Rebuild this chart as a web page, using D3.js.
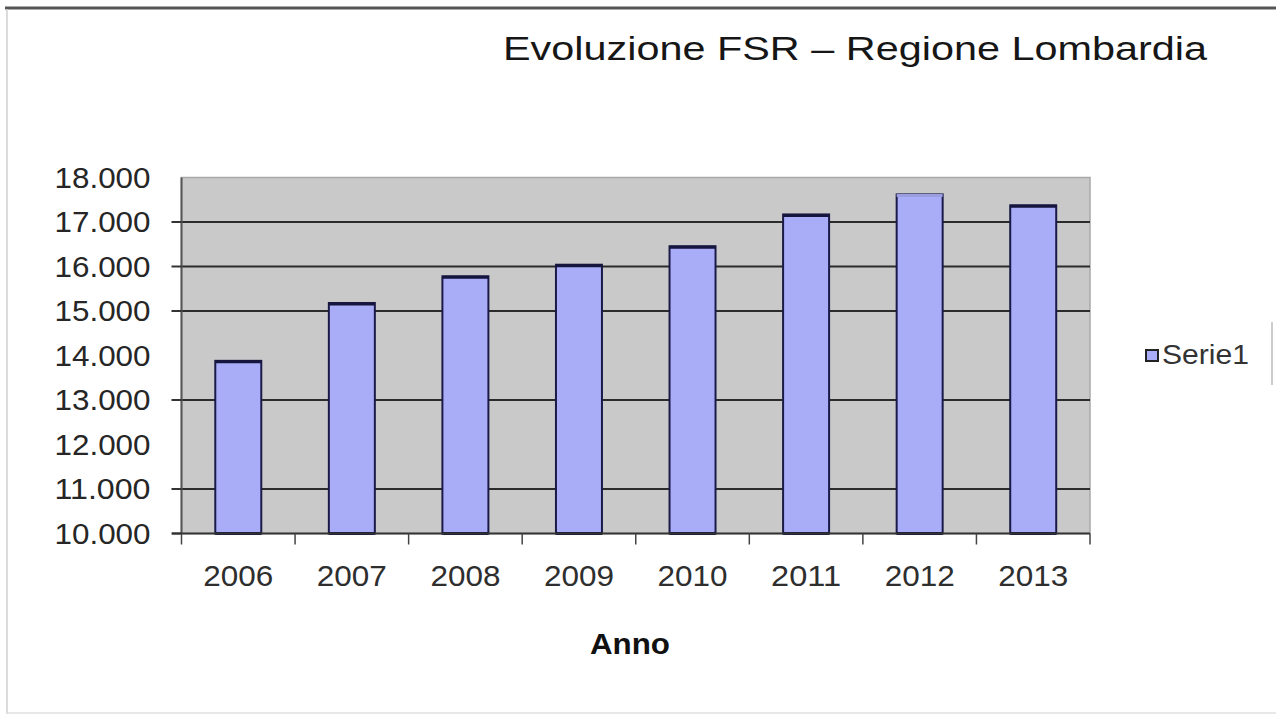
<!DOCTYPE html>
<html>
<head>
<meta charset="utf-8">
<script src="https://cdn.jsdelivr.net/npm/d3@7"></script>
<style>
  html, body { margin: 0; padding: 0; background: #fff; }
  svg { display: block; font-family: "Liberation Sans", Arial, sans-serif; }
</style>
</head>
<body>
<svg id="chart" width="1276" height="714"></svg>
<script>
const years = ["2006", "2007", "2008", "2009", "2010", "2011", "2012", "2013"];
const values = [13880, 15180, 15780, 16040, 16455, 17170, 17620, 17375];
const yTicks = [10000, 11000, 12000, 13000, 14000, 15000, 16000, 17000, 18000];
const gridValues = [11000, 13000, 15000, 16000, 17000];
const tickMarkValues = [10000, 11000, 13000, 15000, 16000, 17000];
const seriesName = "Serie1";
const title = "Evoluzione FSR \u2013 Regione Lombardia";
const xTitle = "Anno";

(function () {
const svg = d3.select("#chart");
const pLeft = 181.5, pRight = 1090, pTop = 177.5, pBottom = 533.5;

// frame
svg.append("line").attr("x1", 5).attr("x2", 1276).attr("y1", 8).attr("y2", 8)
  .attr("stroke", "#555").attr("stroke-width", 3);
svg.append("line").attr("x1", 7).attr("x2", 7).attr("y1", 9).attr("y2", 714)
  .attr("stroke", "#d0d0d0").attr("stroke-width", 1.5);
svg.append("line").attr("x1", 7).attr("x2", 1276).attr("y1", 713).attr("y2", 713)
  .attr("stroke", "#e0e0e0").attr("stroke-width", 1.5);
svg.append("line").attr("x1", 1272).attr("x2", 1272).attr("y1", 322).attr("y2", 385)
  .attr("stroke", "#ccc").attr("stroke-width", 2);

const x = d3.scaleBand().domain(years).range([pLeft, pRight]).paddingInner(0.595).paddingOuter(0.2975);
const y = d3.scaleLinear().domain([10000, 18000]).range([pBottom, pTop]);

// plot background
svg.append("rect").attr("x", pLeft).attr("y", pTop).attr("width", pRight - pLeft).attr("height", pBottom - pTop)
  .attr("fill", "#c9c9c9").attr("stroke", "#a8a8a8").attr("stroke-width", 1.5);

// gridlines
svg.append("g").selectAll("line").data(gridValues).join("line")
  .attr("x1", pLeft).attr("x2", pRight)
  .attr("y1", d => y(d)).attr("y2", d => y(d))
  .attr("stroke", "#2b2b2b").attr("stroke-width", 2);

// bars
const bars = svg.append("g");
bars.selectAll("rect").data(values).join("rect")
  .attr("x", (d, i) => x(years[i]))
  .attr("y", d => y(d))
  .attr("width", x.bandwidth())
  .attr("height", d => pBottom - y(d))
  .attr("fill", "#a9acf7")
  .attr("stroke", "#1a1a48").attr("stroke-width", 2);
bars.selectAll("line.top").data(values).join("line").attr("class", "top")
  .attr("x1", (d, i) => x(years[i])).attr("x2", (d, i) => x(years[i]) + x.bandwidth())
  .attr("y1", d => y(d) + 1).attr("y2", d => y(d) + 1)
  .attr("stroke", (d, i) => i === 6 ? "#9a9ddf" : "#15153d").attr("stroke-width", 3);
bars.selectAll("line.bot").data(values).join("line").attr("class", "bot")
  .attr("x1", (d, i) => x(years[i])).attr("x2", (d, i) => x(years[i]) + x.bandwidth())
  .attr("y1", pBottom).attr("y2", pBottom)
  .attr("stroke", "#15153d").attr("stroke-width", 3);

// y axis
const yAxis = svg.append("g").attr("transform", `translate(${pLeft},0)`);
yAxis.append("line").attr("x1", 0).attr("x2", 0).attr("y1", pTop).attr("y2", pBottom)
  .attr("stroke", "#555").attr("stroke-width", 2);
yAxis.selectAll("line.tick").data(tickMarkValues).join("line").attr("class", "tick")
  .attr("x1", -10).attr("x2", 0).attr("y1", d => y(d)).attr("y2", d => y(d))
  .attr("stroke", "#333").attr("stroke-width", 2);
const fmt = d3.formatLocale({decimal: ",", thousands: ".", grouping: [3], currency: ["", "€"]}).format(",d");
yAxis.selectAll("text").data(yTicks).join("text")
  .attr("x", -31).attr("y", d => y(d)).attr("dy", "0.36em")
  .attr("text-anchor", "end").attr("font-size", 29).attr("fill", "#262626")
  .attr("textLength", 96).attr("lengthAdjust", "spacingAndGlyphs")
  .text(d => fmt(d));

// x axis
const xAxis = svg.append("g");
xAxis.append("line").attr("x1", 172).attr("x2", pRight).attr("y1", pBottom).attr("y2", pBottom)
  .attr("stroke", "#333").attr("stroke-width", 2);
const boundaries = years.map(yr => x(yr) - x.step() * x.paddingInner() / 2).concat([pRight]);
xAxis.selectAll("line.tick").data(boundaries).join("line").attr("class", "tick")
  .attr("x1", d => d).attr("x2", d => d).attr("y1", pBottom).attr("y2", pBottom + 11)
  .attr("stroke", "#444").attr("stroke-width", 1.5);
xAxis.selectAll("text").data(years).join("text")
  .attr("x", d => x(d) + x.bandwidth() / 2).attr("y", 575).attr("dy", "0.36em")
  .attr("text-anchor", "middle").attr("font-size", 30).attr("fill", "#2e2e2e")
  .attr("textLength", 70).attr("lengthAdjust", "spacingAndGlyphs")
  .text(d => d);

// axis title
svg.append("text").attr("x", 630).attr("y", 643).attr("dy", "0.36em")
  .attr("text-anchor", "middle").attr("font-size", 30).attr("font-weight", "bold").attr("fill", "#111")
  .attr("textLength", 80).attr("lengthAdjust", "spacingAndGlyphs")
  .text(xTitle);

// chart title
svg.append("text").attr("x", 503).attr("y", 48).attr("dy", "0.36em")
  .attr("font-size", 34).attr("fill", "#161616")
  .attr("textLength", 704).attr("lengthAdjust", "spacingAndGlyphs")
  .text(title);

// legend
const lg = svg.append("g").attr("transform", "translate(1146,354)");
lg.append("rect").attr("x", 0).attr("y", -4).attr("width", 12).attr("height", 11)
  .attr("fill", "#a9acf7").attr("stroke", "#222").attr("stroke-width", 2);
lg.append("text").attr("x", 16).attr("y", 0).attr("dy", "0.36em")
  .attr("font-size", 27).attr("fill", "#333")
  .attr("textLength", 87).attr("lengthAdjust", "spacingAndGlyphs")
  .text(seriesName);
})();
</script>
</body>
</html>
